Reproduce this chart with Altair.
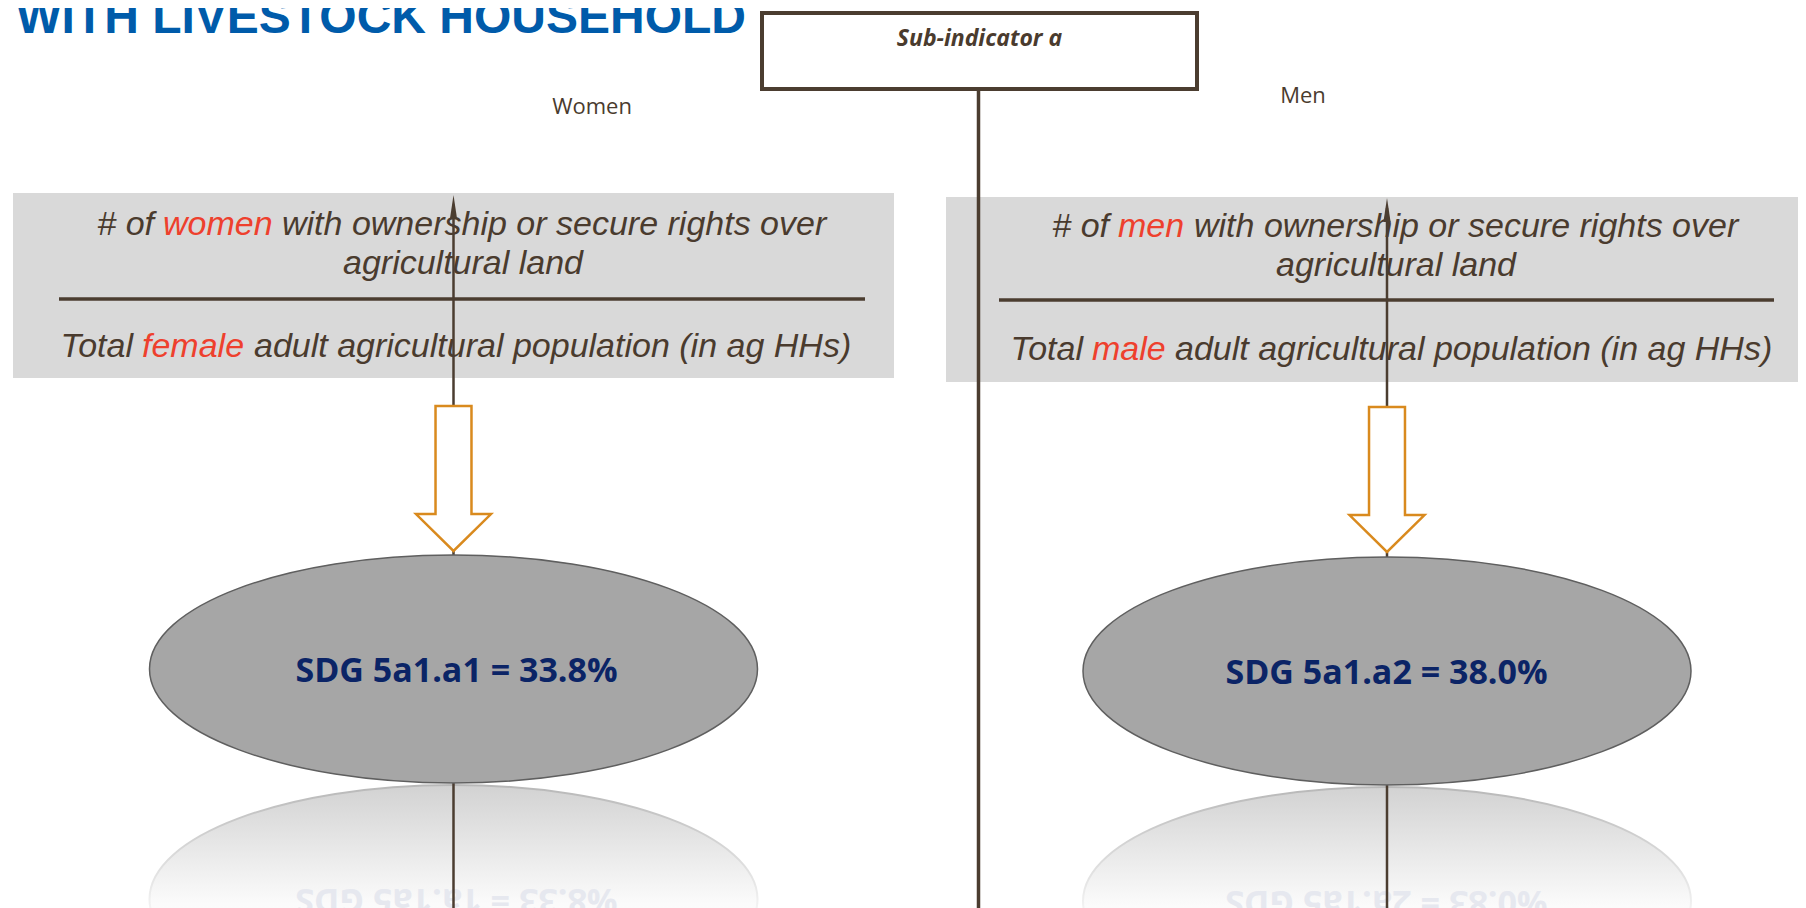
import altair as alt
import pandas as pd

# ---------------- data ----------------
groups = ["Women", "Men"]
codes = ["5a1.a1", "5a1.a2"]
shares = [33.8, 38.0]
num_words = ["women", "men"]
den_words = ["female", "male"]
num_prefix = "# of"
num_suffix = "with ownership or secure rights over"
num_line2 = "agricultural land"
den_prefix = "Total"
den_suffix = "adult agricultural population (in ag HHs)"
header_text = "Sub-indicator a"
page_title = "D WITH LIVESTOCK HOUSEHOLD"

# ---------------- layout (page pixels) ----------------
X0, Y0 = 8, 8
W, H = 1790, 900
panel_cx = [453.5, 1387]          # arrow / ellipse centre
text_cx = [463, 1396]             # centre of the fraction text
label_xy = [(592, 114), (1303, 103)]
box_x = [(13, 894), (946, 1806)]
box_y = [(193, 378), (197, 382)]
div_x = [(59, 865), (999, 1774)]
div_y = [299, 300]
line_y = [(235, 274, 357), (237, 276, 360)]
num_split = [(163, 282), (1118, 1194)]   # red word start, suffix start (line 1)
den_split = [(142, 254), (1092, 1175)]   # red word start, suffix start (line 3)
space_w = 9
tip_y = [195, 198]
orange_top = [406, 407]
ell_cy = [669, 671]
ell_rx, ell_ry = 304, 114
sdg_base = [682, 684]
sdg_cx = [456.5, 1386.5]
center_x = 978.5
hdr_box = (762, 1197, 13, 89)

BROWN = "#4b3d30"
TXT = "#4a3b2e"
RED = "#ee402d"
ORANGE = "#d98a1e"
NAVY = "#0b2466"

xs = alt.Scale(domain=[X0, X0 + W], nice=False, zero=False)
ys = alt.Scale(domain=[Y0, Y0 + H], nice=False, zero=False, reverse=True)


def X(f):
    return alt.X(f"{f}:Q", scale=xs, axis=None)


def Y(f):
    return alt.Y(f"{f}:Q", scale=ys, axis=None)


# ---------------- shapes ----------------
e = ell_ry / ell_rx
k = 0.5523
ellipse_path = (
    f"M -1 0 C -1 {-k*e:.4f} {-k:.4f} {-e:.4f} 0 {-e:.4f} "
    f"C {k:.4f} {-e:.4f} 1 {-k*e:.4f} 1 0 "
    f"C 1 {k*e:.4f} {k:.4f} {e:.4f} 0 {e:.4f} "
    f"C {-k:.4f} {e:.4f} -1 {k*e:.4f} -1 0 Z"
)
ellipse_size = (2 * ell_rx) ** 2

arr_h = 145
r = arr_h / 2
sh = 18 / r
hh = 37.5 / r
hb = (514 - (406 + r)) / r
orange_path = (
    f"M {-sh:.3f} -1 L {sh:.3f} -1 L {sh:.3f} {hb:.3f} L {hh:.3f} {hb:.3f} "
    f"L 0 1 L {-hh:.3f} {hb:.3f} L {-sh:.3f} {hb:.3f} Z"
)
orange_size = arr_h ** 2

head_path = "M 0 -1 L 0.3 1 L -0.3 1 Z"
head_r = 12
head_size = (2 * head_r) ** 2

# ---------------- frames ----------------
boxes = pd.DataFrame({
    "x": [b[0] for b in box_x], "x2": [b[1] for b in box_x],
    "y": [b[0] for b in box_y], "y2": [b[1] for b in box_y],
})

hdr = pd.DataFrame({"x": [hdr_box[0]], "x2": [hdr_box[1]],
                    "y": [hdr_box[2]], "y2": [hdr_box[3]]})

prefix_rows, left_rows, center_rows = [], [], []
for i in range(2):
    l1, l2, l3 = line_y[i]
    prefix_rows.append({"x": num_split[i][0] - space_w, "y": l1, "t": num_prefix, "c": TXT})
    prefix_rows.append({"x": den_split[i][0] - space_w, "y": l3, "t": den_prefix, "c": TXT})
    left_rows.append({"x": num_split[i][0], "y": l1, "t": num_words[i], "c": RED})
    left_rows.append({"x": num_split[i][1], "y": l1, "t": num_suffix, "c": TXT})
    left_rows.append({"x": den_split[i][0], "y": l3, "t": den_words[i], "c": RED})
    left_rows.append({"x": den_split[i][1], "y": l3, "t": den_suffix, "c": TXT})
    center_rows.append({"x": text_cx[i], "y": l2, "t": num_line2, "c": TXT})
prefix_df = pd.DataFrame(prefix_rows)
left_df = pd.DataFrame(left_rows)
center_df = pd.DataFrame(center_rows)

labels = pd.DataFrame({"x": [p[0] for p in label_xy], "y": [p[1] for p in label_xy],
                       "t": groups})

dividers = pd.DataFrame({"x": [d[0] for d in div_x], "x2": [d[1] for d in div_x],
                         "y": div_y})

vlines = pd.DataFrame({
    "x": [center_x, panel_cx[0], panel_cx[1]],
    "y": [hdr_box[3], tip_y[0] + 10, tip_y[1] + 10],
    "y2": [908, 908, 908],
    "w": [3.5, 2.5, 2.5],
})

heads = pd.DataFrame({"x": panel_cx, "y": [t + head_r for t in tip_y]})
oranges = pd.DataFrame({"x": panel_cx, "y": [t + r for t in orange_top]})
ells = pd.DataFrame({"x": panel_cx, "y": ell_cy})
refl = pd.DataFrame({"x": panel_cx, "y": [c + 2 * ell_ry + 2 for c in ell_cy]})

sdg_labels = [f"SDG {c} = {v:.1f}%" for c, v in zip(codes, shares)]
sdg = pd.DataFrame({"x": sdg_cx, "y": sdg_base, "t": sdg_labels})
sdg_refl = pd.DataFrame({
    "x": sdg_cx,
    "y": [2 * (c + ell_ry) - c + 2 for c in ell_cy],
    "t": [s[::-1] for s in sdg_labels],
})

title_df = pd.DataFrame({"x": [746], "y": [33], "t": [page_title]})
hdr_txt = pd.DataFrame({"x": [(hdr_box[0] + hdr_box[1]) / 2], "y": [46], "t": [header_text]})

# ---------------- layers ----------------
grey = alt.Chart(boxes).mark_rect(color="#d9d9d9").encode(
    x=X("x"), x2="x2", y=Y("y"), y2="y2")

hdr_rect = alt.Chart(hdr).mark_rect(fill="white", stroke=BROWN, strokeWidth=4).encode(
    x=X("x"), x2="x2", y=Y("y"), y2="y2")

box_font = dict(font="Liberation Sans", fontSize=34, fontStyle="italic", baseline="alphabetic")
t_prefix = alt.Chart(prefix_df).mark_text(align="right", **box_font).encode(
    x=X("x"), y=Y("y"), text="t:N", color=alt.Color("c:N", scale=None))
t_left = alt.Chart(left_df).mark_text(align="left", **box_font).encode(
    x=X("x"), y=Y("y"), text="t:N", color=alt.Color("c:N", scale=None))
t_center = alt.Chart(center_df).mark_text(align="center", **box_font).encode(
    x=X("x"), y=Y("y"), text="t:N", color=alt.Color("c:N", scale=None))

refl_grad = alt.LinearGradient(
    gradient="linear", x1=0, x2=0, y1=0, y2=1,
    stops=[alt.GradientStop(offset=0, color="#d2d2d2"),
           alt.GradientStop(offset=0.52, color="#fbfbfb"),
           alt.GradientStop(offset=1, color="#ffffff")])
refl_stroke = alt.LinearGradient(
    gradient="linear", x1=0, x2=0, y1=0, y2=1,
    stops=[alt.GradientStop(offset=0, color="#b8b8b8"),
           alt.GradientStop(offset=0.55, color="#f4f4f4"),
           alt.GradientStop(offset=1, color="#ffffff")])
reflection = alt.Chart(refl).mark_point(
    shape=ellipse_path, size=ellipse_size, filled=True, fill=refl_grad,
    stroke=refl_stroke, strokeWidth=2, opacity=1, clip=True).encode(x=X("x"), y=Y("y"))

SDG_FONT = dict(font="Open Sans", fontSize=34, fontWeight="bold")
reflection_txt = alt.Chart(sdg_refl).mark_text(
    angle=180, align="center", baseline="middle", color="#e6e8ef", clip=True,
    **SDG_FONT).encode(x=X("x"), y=Y("y"), text="t:N")

rules_v = alt.Chart(vlines).mark_rule(color=BROWN).encode(
    x=X("x"), y=Y("y"), y2="y2", strokeWidth=alt.StrokeWidth("w:Q", scale=None))
rules_h = alt.Chart(dividers).mark_rule(color=BROWN, strokeWidth=3.5).encode(
    x=X("x"), x2="x2", y=Y("y"))
arrowheads = alt.Chart(heads).mark_point(
    shape=head_path, size=head_size, filled=True, fill=BROWN, strokeWidth=0,
    opacity=1).encode(x=X("x"), y=Y("y"))

orange_arrows = alt.Chart(oranges).mark_point(
    shape=orange_path, size=orange_size, filled=True, fill="white",
    stroke=ORANGE, strokeWidth=2.5, opacity=1).encode(x=X("x"), y=Y("y"))

ellipses = alt.Chart(ells).mark_point(
    shape=ellipse_path, size=ellipse_size, filled=True, fill="#a6a6a6",
    stroke="#5f5f5f", strokeWidth=1.5, opacity=1).encode(x=X("x"), y=Y("y"))

sdg_txt = alt.Chart(sdg).mark_text(
    align="center", baseline="alphabetic", color=NAVY, **SDG_FONT).encode(
    x=X("x"), y=Y("y"), text="t:N")

label_txt = alt.Chart(labels).mark_text(
    align="center", baseline="alphabetic", font="Open Sans", fontSize=22,
    color=TXT).encode(x=X("x"), y=Y("y"), text="t:N")

hdr_label = alt.Chart(hdr_txt).mark_text(
    align="center", baseline="alphabetic", font="Open Sans", fontSize=23,
    fontWeight="bold", fontStyle="italic", color=TXT).encode(
    x=X("x"), y=Y("y"), text="t:N")

title = alt.Chart(title_df).mark_text(
    align="right", baseline="alphabetic", font="Liberation Sans", fontSize=48,
    fontWeight="bold", color="#005baa", clip=True).encode(x=X("x"), y=Y("y"), text="t:N")

chart = alt.layer(
    grey, t_prefix, t_left, t_center, reflection, reflection_txt,
    rules_v, rules_h, arrowheads, orange_arrows, ellipses, sdg_txt,
    hdr_rect, hdr_label, label_txt, title,
).properties(
    width=W, height=H, padding=0,
    autosize=alt.AutoSizeParams(type="none"),
).configure_view(stroke=None)

chart.save("out.html", embed_options={"renderer": "svg", "actions": False})
